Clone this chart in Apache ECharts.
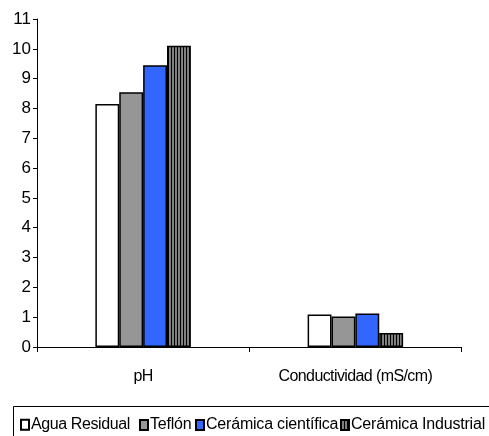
<!DOCTYPE html>
<html>
<head>
<meta charset="utf-8">
<style>
  html, body { margin: 0; padding: 0; background: #ffffff; }
  #chart { width: 489px; height: 436px; }
</style>
<script src="https://cdn.jsdelivr.net/npm/echarts@6/dist/echarts.min.js"></script>
</head>
<body>
<div id="chart"></div>
<script>
// Measured parameters per sample type
const categories = ['pH', 'Conductividad (mS/cm)'];
const seriesNames = ['Agua Residual', 'Teflón', 'Cerámica científica', 'Cerámica Industrial'];
const aguaResidual = [8.15, 1.09];
const teflon = [8.54, 1.02];
const ceramicaCientifica = [9.45, 1.12];
const ceramicaIndustrial = [10.1, 0.47];
const yTicks = [0, 1, 2, 3, 4, 5, 6, 7, 8, 9, 10, 11];

// Label fonts: the first family in each stack selects how tight the tracking is
const tightFamily = '"Liberation Sans", Arial, sans-serif';
const semiTightFamily = 'Helvetica, "Liberation Sans", Arial, sans-serif';
const lightFamily = 'Arimo, "Liberation Sans", Arial, sans-serif';
const tracking = { 'Liberation Sans': '-0.6px', 'Helvetica': '-0.4px', 'Arimo': '-0.2px' };
(function () {
  const proto = CanvasRenderingContext2D.prototype;
  if (!('letterSpacing' in proto)) return;
  const fill = proto.fillText;
  const measure = proto.measureText;
  function trackingFor(font) {
    const m = font.match(/px\s+"?([^",]+)/);
    return m ? tracking[m[1].trim()] || null : null;
  }
  function withTracking(ctx, fn, args) {
    const sp = trackingFor(ctx.font);
    if (!sp) return fn.apply(ctx, args);
    const prev = ctx.letterSpacing;
    ctx.letterSpacing = sp;
    const r = fn.apply(ctx, args);
    ctx.letterSpacing = prev;
    return r;
  }
  proto.fillText = function () { return withTracking(this, fill, arguments); };
  proto.measureText = function () { return withTracking(this, measure, arguments); };
})();

// Vertical stripe fill: gray with thin black lines
function stripePattern() {
  const c = document.createElement('canvas');
  c.width = 3; c.height = 4;
  const ctx = c.getContext('2d');
  ctx.fillStyle = '#808080';
  ctx.fillRect(0, 0, 3, 4);
  ctx.fillStyle = '#000000';
  ctx.fillRect(0, 0, 1, 4);
  return c;
}

const fills = ['#ffffff', '#969696', '#3366ff', { image: stripePattern(), repeat: 'repeat' }];
const values = [aguaResidual, teflon, ceramicaCientifica, ceramicaIndustrial];

// One legend entry per component so each sits at its own offset
const legendLeft = [20, 139, 195, 340];
const legendFamily = [semiTightFamily, lightFamily, lightFamily, lightFamily];
const legends = seriesNames.map((name, i) => ({
  left: legendLeft[i],
  top: 417,
  orient: 'horizontal',
  itemWidth: 8,
  itemHeight: 10,
  padding: 0,
  icon: 'rect',
  textStyle: { color: '#000', fontSize: 16, fontFamily: legendFamily[i], padding: [0, 0, 0, -3] },
  data: [name]
}));

const chart = echarts.init(document.getElementById('chart'), null, { renderer: 'canvas' });
chart.setOption({
  animation: false,
  backgroundColor: '#ffffff',
  grid: { left: 37, right: 27.5, top: 19, bottom: 89, containLabel: false },
  xAxis: {
    type: 'category',
    data: categories,
    axisLine: { lineStyle: { color: '#000', width: 1 } },
    axisTick: { show: true, alignWithLabel: false, length: 5, lineStyle: { color: '#000' } },
    axisLabel: { color: '#000', fontSize: 16, fontFamily: tightFamily, margin: 22 },
    splitLine: { show: false }
  },
  yAxis: {
    type: 'value',
    min: yTicks[0],
    max: yTicks[yTicks.length - 1],
    interval: 1,
    axisLine: { show: true, lineStyle: { color: '#000', width: 1 } },
    axisTick: { show: true, length: 4, lineStyle: { color: '#000' } },
    axisLabel: { color: '#000', fontSize: 17, fontFamily: 'Arial, sans-serif', margin: 6 },
    splitLine: { show: false }
  },
  legend: legends,
  graphic: [{
    type: 'rect',
    shape: { x: 13.5, y: 406.5, width: 520, height: 60 },
    style: { fill: 'none', stroke: '#000', lineWidth: 1 },
    silent: true,
    z: -1
  }],
  series: seriesNames.map((name, i) => ({
    name: name,
    type: 'bar',
    data: values[i],
    barGap: '0%',
    barCategoryGap: '55%',
    itemStyle: { color: fills[i], borderColor: '#000', borderWidth: 1.5 }
  }))
});
</script>
</body>
</html>
